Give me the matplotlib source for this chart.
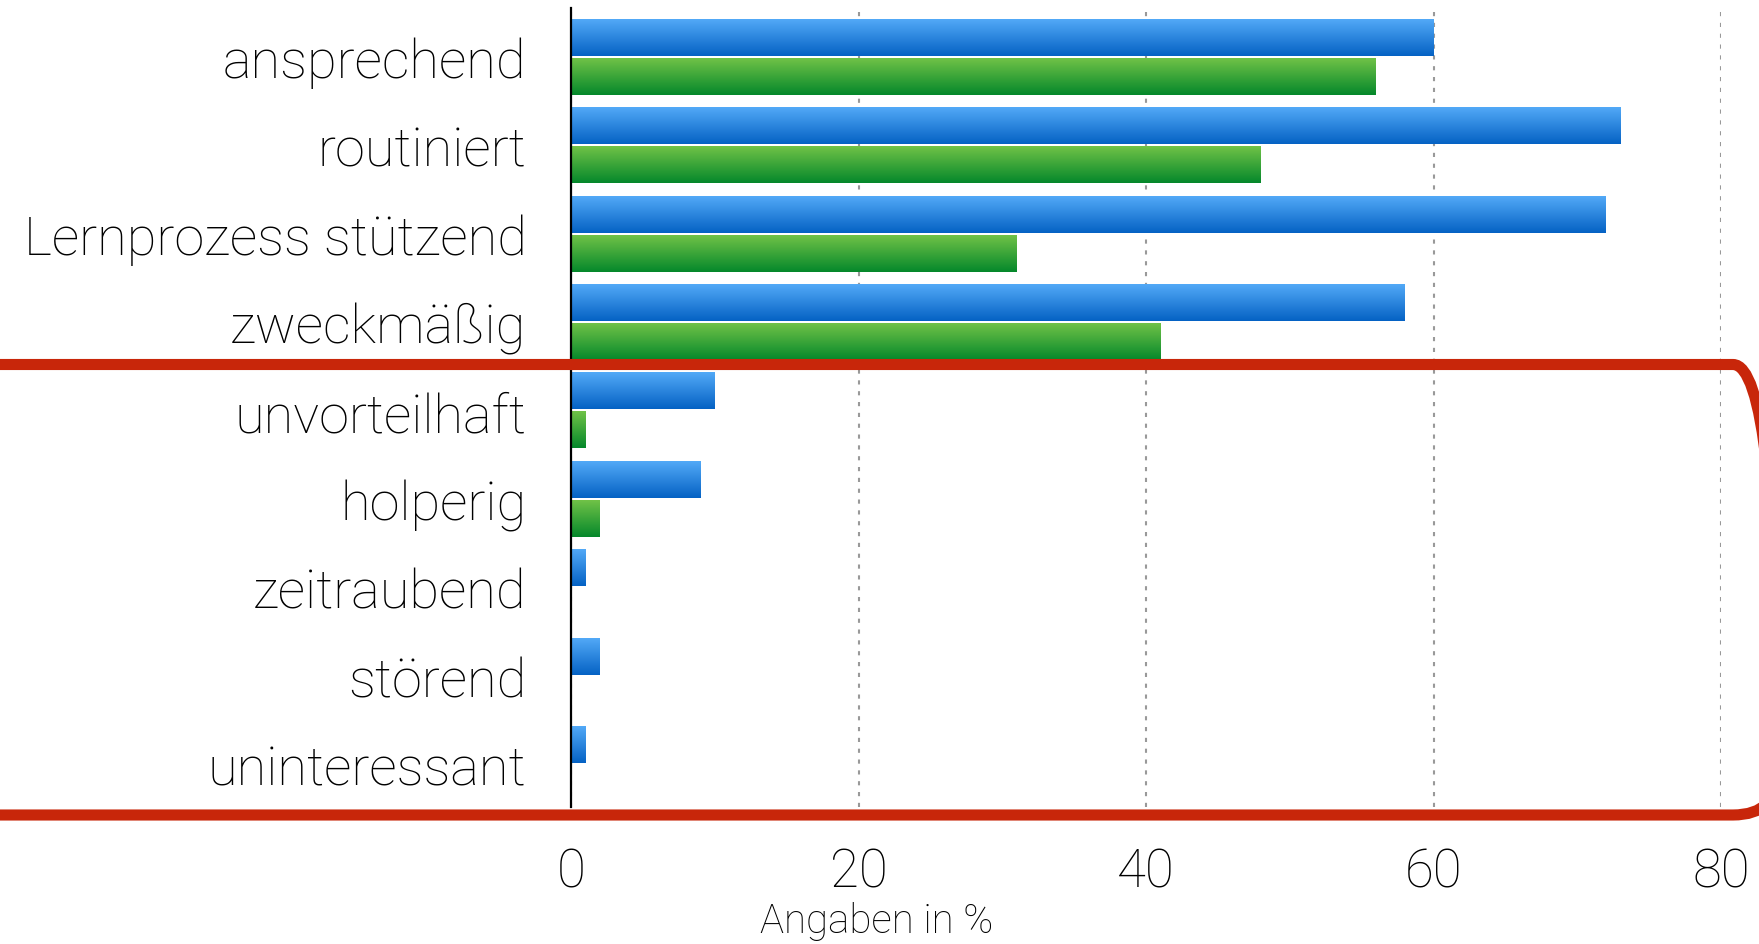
import numpy as np
import matplotlib
matplotlib.use('Agg')
import matplotlib.pyplot as plt
from matplotlib.patches import FancyBboxPatch
from matplotlib.transforms import IdentityTransform

# Werte in %
kategorien = ['ansprechend', 'routiniert', 'Lernprozess stützend', 'zweckmäßig',
              'unvorteilhaft', 'holperig', 'zeitraubend', 'störend', 'uninteressant']
werte_blau = [60, 73, 72, 58, 10, 9, 1, 2, 1]
werte_gruen = [56, 48, 31, 41, 1, 2, 0, 0, 0]
x_ticks = [0, 20, 40, 60, 80]

plt.rcParams['font.family'] = ['Roboto', 'DejaVu Sans']

W, H = 1759, 945
fig = plt.figure(figsize=(W / 100, H / 100), dpi=100)
ax = fig.add_axes([571 / W, 1 - 808 / H, (1721 - 571) / W, (808 - 9) / H])

y = np.arange(len(kategorien))
bar_h = 0.41
off = 0.22

blau = ax.barh(y - off, werte_blau, height=bar_h, color='#2a86e0', zorder=3)
gruen = ax.barh(y + off, werte_gruen, height=bar_h, color='#3aa43a', zorder=3)


def verlauf(bars, oben, unten):
    # vertikaler Farbverlauf ueber jeden Balken legen
    c1 = np.array(matplotlib.colors.to_rgb(oben))
    c2 = np.array(matplotlib.colors.to_rgb(unten))
    t = np.linspace(0, 1, 64)[:, None]
    grad = (c1 * (1 - t) + c2 * t)[:, None, :]
    for b in bars:
        x0, y0 = b.get_x(), b.get_y()
        w, h = b.get_width(), b.get_height()
        if w <= 0:
            b.set_visible(False)
            continue
        # y-Achse ist invertiert: y0 ist oben im Bild
        ax.imshow(grad, extent=[x0, x0 + w, y0 + h, y0], aspect='auto',
                  interpolation='bilinear', zorder=4)


verlauf(blau, '#52a9f7', '#0562c4')
verlauf(gruen, '#70c247', '#05882b')

ax.set_xlim(0, 80)
ax.set_ylim(8.48, -0.555)

ax.set_yticks(y)
ax.set_yticklabels(kategorien, fontsize=39, fontweight='light', color='black')
ax.set_xticks(x_ticks)
ax.set_xticklabels([str(v) for v in x_ticks], fontsize=38, fontweight='light', color='black')
ax.tick_params(axis='y', length=0, pad=32)
ax.tick_params(axis='x', length=0, pad=28)

ax.grid(axis='x', color='#999999', linestyle=(0, (2, 3.2)), linewidth=1.5, zorder=1)
ax.grid(axis='y', visible=False)

for s in ['top', 'right', 'bottom']:
    ax.spines[s].set_visible(False)
ax.spines['left'].set_linewidth(1.6)
ax.spines['left'].set_color('black')
ax.spines['left'].set_zorder(5)

fig.text(877 / W, 1 - 922 / H, 'Angaben in %', fontsize=29, fontweight='light',
         ha='center', va='center', color='black')

# roter Rahmen um die negativen Eigenschaften (Pixelkoordinaten)
x0, x1 = -60, 1778
y0, y1 = H - 816, H - 365.5
box = FancyBboxPatch((x0, y0), x1 - x0, y1 - y0,
                     boxstyle='round,pad=0,rounding_size=45',
                     transform=IdentityTransform(), fill=False,
                     edgecolor='#c8260a', linewidth=8, zorder=10)
fig.patches.append(box)

fig.savefig('out.png', dpi=100)
